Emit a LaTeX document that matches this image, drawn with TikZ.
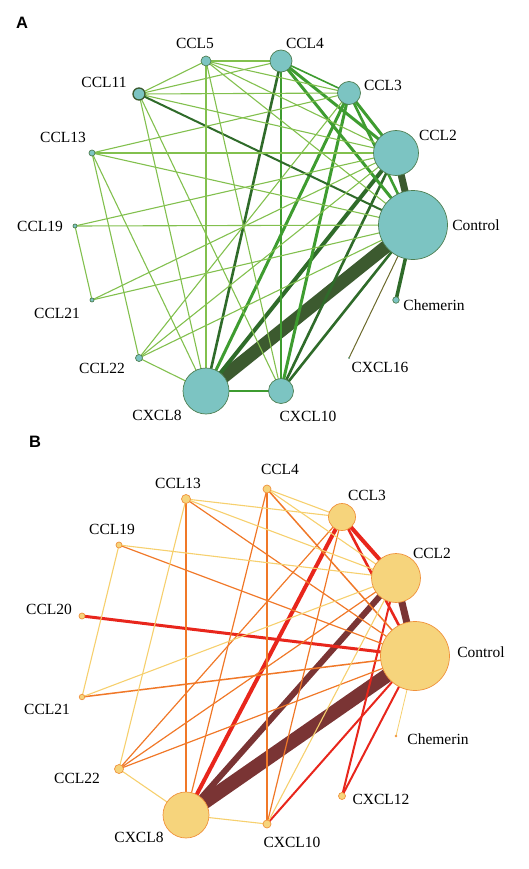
\documentclass[tikz,border=0pt]{standalone}
\usepackage{fontspec}
\setmainfont{Liberation Serif}
\newfontfamily\panelfont{Liberation Sans}
\usetikzlibrary{positioning, backgrounds}
\definecolor{tealfill}{HTML}{7CC4C2}
\definecolor{tealline}{HTML}{4E7F52}
\definecolor{sandfill}{HTML}{F6D47C}
\definecolor{sandline}{HTML}{F0923C}
\definecolor{gLight}{HTML}{82C04E}
\definecolor{gMid}{HTML}{3E9C30}
\definecolor{gDark}{HTML}{2F6B2A}
\definecolor{gDeep}{HTML}{3C5A2F}
\definecolor{gOlive}{HTML}{6C6A2C}
\definecolor{oYellow}{HTML}{F6D06E}
\definecolor{oOrange}{HTML}{F07828}
\definecolor{oRed}{HTML}{E8261C}
\definecolor{oMaroon}{HTML}{7A3434}
\tikzstyle{nodeA} = [circle, inner sep=0pt, draw=tealline, line width=0.7pt, fill=tealfill]
\tikzstyle{nodeB} = [circle, inner sep=0pt, draw=sandline, line width=0.7pt, fill=sandfill]
\tikzstyle{lab} = [inner sep=0pt, font=\fontsize{15.5}{18}\selectfont]
\tikzstyle{panel} = [inner sep=0pt, font=\panelfont\bfseries\fontsize{16.5}{19}\selectfont]
\tikzstyle{thinA} = [draw=gLight, line width=1.1pt]
\tikzstyle{midA} = [draw=gMid, line width=2.6pt]
\tikzstyle{darkA} = [draw=gDark, line width=2.6pt]
\tikzstyle{thinB} = [draw=oYellow, line width=1.1pt]
\tikzstyle{orangeB} = [draw=oOrange, line width=1.2pt]
\tikzstyle{redB} = [draw=oRed, line width=2.6pt]

\begin{document}
\begin{tikzpicture}[x=1pt, y=-1pt]
    \useasboundingbox (0,0) rectangle (529,869);
    % pannello A
    \node (pA) [panel] at (22,23) {A};
    \node (ctlA) [nodeA, minimum size=69pt] at (413,225) {};
    \node (ccl2A) [nodeA, minimum size=45pt] at (396,153) {};
    \node (ccl3A) [nodeA, minimum size=23pt] at (349,93) {};
    \node (ccl4A) [nodeA, minimum size=22pt] at (281,61) {};
    \node (ccl5A) [nodeA, minimum size=10pt] at (206,61) {};
    \node (ccl11A) [nodeA, minimum size=12pt, draw=gDeep, line width=1.3pt] at (139,94) {};
    \node (ccl13A) [nodeA, minimum size=6pt] at (92,153) {};
    \node (ccl19A) [nodeA, minimum size=4pt] at (75,226) {};
    \node (ccl21A) [nodeA, minimum size=4pt] at (92,300) {};
    \node (ccl22A) [nodeA, minimum size=7pt] at (139,358) {};
    \node (cxcl8A) [nodeA, minimum size=46pt] at (206,391) {};
    \node (cxcl10A) [nodeA, minimum size=25pt] at (281,391) {};
    \node (cxcl16A) [nodeA, minimum size=1.5pt, line width=0.3pt] at (349,358) {};
    \node (chemA) [nodeA, minimum size=6.5pt] at (396,300) {};

    \node (lctlA) [lab] at (476,225) {Control};
    \node (lccl2A) [lab] at (438,135) {CCL2};
    \node (lccl3A) [lab] at (383,85) {CCL3};
    \node (lccl4A) [lab] at (305,43) {CCL4};
    \node (lccl5A) [lab] at (195,43) {CCL5};
    \node (lccl11A) [lab] at (104,82) {CCL11};
    \node (lccl13A) [lab] at (63,137) {CCL13};
    \node (lccl19A) [lab] at (40,226) {CCL19};
    \node (lccl21A) [lab] at (57,313) {CCL21};
    \node (lccl22A) [lab] at (102,368) {CCL22};
    \node (lcxcl8A) [lab] at (157,415) {CXCL8};
    \node (lcxcl10A) [lab] at (308,416) {CXCL10};
    \node (lcxcl16A) [lab] at (380,367) {CXCL16};
    \node (lchemA) [lab] at (434,305) {Chemerin};

    \begin{scope}[on background layer]
    \draw [draw=gDeep, line width=13pt] (ctlA.center) -- (cxcl8A.center);
    \draw [draw=gDeep, line width=7pt] (ctlA.center) -- (ccl2A.center);
    \draw [draw=gDark, line width=4pt] (ccl2A.center) -- (cxcl8A.center);
    \draw [darkA] (ccl4A.center) -- (cxcl8A.center);
    \draw [midA, line width=3pt] (ccl3A.center) -- (cxcl8A.center);
    \draw [midA, line width=3pt] (ccl3A.center) -- (cxcl10A.center);
    \draw [darkA] (ccl2A.center) -- (cxcl10A.center);
    \draw [darkA] (ctlA.center) -- (cxcl10A.center);
    \draw [midA] (cxcl8A.center) -- (cxcl10A.center);
    \draw [midA, line width=2pt] (ccl4A.center) -- (cxcl10A.center);
    \draw [midA, line width=3pt] (ccl4A.center) -- (ccl2A.center);
    \draw [midA, line width=3pt] (ccl4A.center) -- (ctlA.center);
    \draw [midA, line width=1.6pt] (ccl4A.center) -- (ccl3A.center);
    \draw [midA, line width=3pt] (ccl3A.center) -- (ccl2A.center);
    \draw [midA] (ccl3A.center) -- (ctlA.center);
    \draw [darkA, line width=3.5pt] (ctlA.center) -- (chemA.center);
    \draw [draw=gOlive, line width=1pt] (ctlA.center) -- (cxcl16A.center);
    \draw [darkA, line width=2pt] (ccl11A.center) -- (ctlA.center);
    \draw [thinA] (ccl5A.center) -- (ctlA.center);
    \draw [thinA] (ccl13A.center) -- (ctlA.center);
    \draw [thinA] (ccl19A.center) -- (ctlA.center);
    \draw [thinA] (ccl21A.center) -- (ctlA.center);
    \draw [thinA] (ccl22A.center) -- (ctlA.center);
    \draw [thinA] (ccl5A.center) -- (ccl2A.center);
    \draw [thinA] (ccl11A.center) -- (ccl2A.center);
    \draw [thinA] (ccl13A.center) -- (ccl2A.center);
    \draw [thinA] (ccl19A.center) -- (ccl2A.center);
    \draw [thinA] (ccl21A.center) -- (ccl2A.center);
    \draw [thinA] (ccl22A.center) -- (ccl2A.center);
    \draw [thinA] (ccl5A.center) -- (ccl3A.center);
    \draw [thinA] (ccl11A.center) -- (ccl3A.center);
    \draw [thinA] (ccl13A.center) -- (ccl3A.center);
    \draw [thinA] (ccl22A.center) -- (ccl3A.center);
    \draw [thinA] (ccl5A.center) -- (ccl4A.center);
    \draw [thinA] (ccl11A.center) -- (ccl4A.center);
    \draw [thinA] (ccl11A.center) -- (ccl5A.center);
    \draw [thinA] (ccl5A.center) -- (cxcl8A.center);
    \draw [thinA] (ccl5A.center) -- (cxcl10A.center);
    \draw [thinA] (ccl11A.center) -- (cxcl8A.center);
    \draw [thinA] (ccl11A.center) -- (cxcl10A.center);
    \draw [thinA] (ccl13A.center) -- (ccl22A.center);
    \draw [thinA] (ccl13A.center) -- (cxcl8A.center);
    \draw [thinA] (ccl19A.center) -- (ccl21A.center);
    \draw [thinA] (ccl22A.center) -- (cxcl8A.center);
    \end{scope}

    % pannello B
    \node (pB) [panel] at (35,442) {B};
    \node (ctlB) [nodeB, minimum size=69pt] at (415,656) {};
    \node (ccl2B) [nodeB, minimum size=49pt] at (396,578) {};
    \node (ccl3B) [nodeB, minimum size=27pt] at (342,517) {};
    \node (ccl4B) [nodeB, minimum size=8pt] at (267,489) {};
    \node (ccl13B) [nodeB, minimum size=9pt] at (186,499) {};
    \node (ccl19B) [nodeB, minimum size=6pt] at (119,545) {};
    \node (ccl20B) [nodeB, minimum size=6pt] at (82,616) {};
    \node (ccl21B) [nodeB, minimum size=5.5pt] at (82,697) {};
    \node (ccl22B) [nodeB, minimum size=9pt] at (119,769) {};
    \node (cxcl8B) [nodeB, minimum size=46pt] at (186,815) {};
    \node (cxcl10B) [nodeB, minimum size=8pt] at (267,824) {};
    \node (cxcl12B) [nodeB, minimum size=7pt] at (342,796) {};
    \node (chemB) [nodeB, minimum size=2pt, line width=0.4pt] at (396,736) {};

    \node (lctlB) [lab] at (481,652) {Control};
    \node (lccl2B) [lab] at (432,553) {CCL2};
    \node (lccl3B) [lab] at (367,495) {CCL3};
    \node (lccl4B) [lab] at (280,469) {CCL4};
    \node (lccl13B) [lab] at (178,483) {CCL13};
    \node (lccl19B) [lab] at (112,529) {CCL19};
    \node (lccl20B) [lab] at (49,609) {CCL20};
    \node (lccl21B) [lab] at (47,709) {CCL21};
    \node (lccl22B) [lab] at (77,778) {CCL22};
    \node (lcxcl8B) [lab] at (139,837) {CXCL8};
    \node (lcxcl10B) [lab] at (292,842) {CXCL10};
    \node (lcxcl12B) [lab] at (381,799) {CXCL12};
    \node (lchemB) [lab] at (438,739) {Chemerin};

    \begin{scope}[on background layer]
    \draw [draw=oMaroon, line width=14pt] (ctlB.center) -- (cxcl8B.center);
    \draw [draw=oMaroon, line width=7pt] (ctlB.center) -- (ccl2B.center);
    \draw [draw=oMaroon, line width=6pt] (ccl2B.center) -- (cxcl8B.center);
    \draw [redB, line width=3pt] (ctlB.center) -- (ccl20B.center);
    \draw [redB] (ctlB.center) -- (ccl3B.center);
    \draw [redB, line width=4pt] (ccl3B.center) -- (ccl2B.center);
    \draw [redB, line width=4pt] (ccl3B.center) -- (cxcl8B.center);
    \draw [redB, line width=2pt] (ctlB.center) -- (cxcl10B.center);
    \draw [redB, line width=2pt] (ctlB.center) -- (cxcl12B.center);
    \draw [redB, line width=2pt] (ccl2B.center) -- (cxcl12B.center);
    \draw [orangeB, line width=1.5pt] (ctlB.center) -- (ccl4B.center);
    \draw [orangeB] (ctlB.center) -- (ccl13B.center);
    \draw [orangeB] (ctlB.center) -- (ccl19B.center);
    \draw [orangeB, line width=1.5pt] (ctlB.center) -- (ccl21B.center);
    \draw [orangeB] (ctlB.center) -- (ccl22B.center);
    \draw [orangeB] (ccl2B.center) -- (ccl22B.center);
    \draw [orangeB] (ccl3B.center) -- (ccl22B.center);
    \draw [orangeB] (ccl3B.center) -- (cxcl10B.center);
    \draw [orangeB] (ccl4B.center) -- (cxcl8B.center);
    \draw [orangeB] (ccl4B.center) -- (cxcl10B.center);
    \draw [orangeB] (ccl13B.center) -- (cxcl8B.center);
    \draw [thinB, line width=0.8pt] (ctlB.center) -- (chemB.center);
    \draw [thinB] (ccl2B.center) -- (ccl4B.center);
    \draw [thinB] (ccl2B.center) -- (ccl13B.center);
    \draw [thinB] (ccl2B.center) -- (ccl19B.center);
    \draw [thinB] (ccl2B.center) -- (ccl21B.center);
    \draw [thinB] (ccl2B.center) -- (cxcl10B.center);
    \draw [thinB] (ccl3B.center) -- (ccl4B.center);
    \draw [thinB] (ccl3B.center) -- (ccl13B.center);
    \draw [thinB] (ccl13B.center) -- (ccl22B.center);
    \draw [thinB] (ccl19B.center) -- (ccl21B.center);
    \draw [thinB] (ccl22B.center) -- (cxcl8B.center);
    \draw [thinB] (cxcl8B.center) -- (cxcl10B.center);
    \end{scope}
\end{tikzpicture}
\end{document}
